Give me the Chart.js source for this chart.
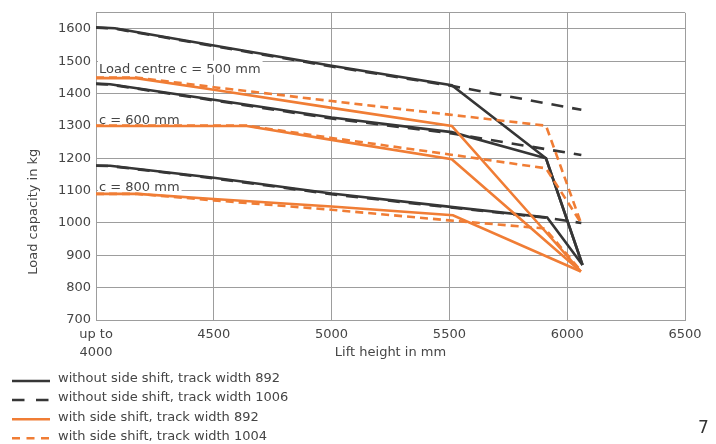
<!DOCTYPE html>
<html>
<head>
<meta charset="utf-8">
<script src="https://cdn.jsdelivr.net/npm/chart.js@4.4.1/dist/chart.umd.min.js"></script>
<style>
  html, body { margin: 0; padding: 0; background: #fff; }
  #wrap { width: 716px; height: 444px; }
</style>
</head>
<body>
<div id="wrap"><canvas id="loadChart" width="716" height="444"></canvas></div>
<script>
// [lift height mm, load capacity kg]
// load centre c = 500 mm
const c500NoShift892 = [[4000,1605],[4080,1602],[4500,1549],[5000,1486],[5510,1426],[5910,1200],[6065,870]];
const c500NoShift1006 = [[4000,1604],[4080,1601],[4500,1547],[5000,1484],[5510,1424],[6060,1350]];
const c500Shift892 = [[4000,1448],[4170,1448],[4500,1412],[5000,1356],[5510,1300],[6058,850]];
const c500Shift1004 = [[4000,1450],[4170,1450],[4500,1420],[5000,1377],[5500,1335],[5910,1301],[6058,1001]];
// c = 600 mm
const c600NoShift892 = [[4000,1431],[4060,1429],[4500,1381],[5000,1326],[5510,1281],[5910,1200],[6065,870]];
const c600NoShift1006 = [[4000,1430],[4060,1428],[4500,1379],[5000,1323],[5510,1277],[6060,1210]];
const c600Shift892 = [[4000,1300],[4640,1300],[5000,1257],[5510,1197],[6058,850]];
const c600Shift1004 = [[4000,1301],[4640,1301],[5000,1263],[5500,1212],[5910,1169],[6058,1001]];
// c = 800 mm
const c800NoShift892 = [[4000,1178],[4060,1177],[4500,1140],[5000,1091],[5515,1049],[5915,1017],[6065,870]];
const c800NoShift1006 = [[4000,1177],[4060,1176],[4500,1138],[5000,1089],[5515,1047],[5915,1016],[6060,1000]];
const c800Shift892 = [[4000,1090],[4175,1090],[4500,1074],[5000,1051],[5515,1024],[6058,850]];
const c800Shift1004 = [[4000,1090],[4175,1090],[4500,1070],[5000,1041],[5500,1008],[5905,983],[6055,855]];

const seriesNames = [
  'without side shift, track width 892',
  'without side shift, track width 1006',
  'with side shift, track width 892',
  'with side shift, track width 1004'
];
const centreLabels = ['Load centre c = 500 mm', 'c = 600 mm', 'c = 800 mm'];
const xTicks = [4000, 4500, 5000, 5500, 6000, 6500];
const xTickLabels = [['up to', '4000'], ['4500'], ['5000'], ['5500'], ['6000'], ['6500']];
const yTicks = [700, 800, 900, 1000, 1100, 1200, 1300, 1400, 1500, 1600, 1650];

const DARK = '#363636';
const ORANGE = '#f07d35';
const GRID = '#9d9d9d';
const TEXT = '#454545';
const FONT = '"DejaVu Sans", sans-serif';

// line styles per legend entry
const styles = [
  { color: DARK, dash: [], legendDash: [] },
  { color: DARK, dash: [12, 9], legendDash: [12.5, 11.5] },
  { color: ORANGE, dash: [], legendDash: [] },
  { color: ORANGE, dash: [8, 5], legendDash: [8, 6.5] }
];

const groups = [
  [c500NoShift892, c500NoShift1006, c500Shift892, c500Shift1004],
  [c600NoShift892, c600NoShift1006, c600Shift892, c600Shift1004],
  [c800NoShift892, c800NoShift1006, c800Shift892, c800Shift1004]
];

// first dataset ends up on top, so orange dashed first, black solid last
const drawOrder = [3, 2, 1, 0];
const datasets = [];
drawOrder.forEach(s => {
  groups.forEach((g, gi) => {
    datasets.push({
      label: seriesNames[s] + ' (' + centreLabels[gi] + ')',
      data: g[s].map(p => ({ x: p[0], y: p[1] })),
      borderColor: styles[s].color,
      borderDash: styles[s].dash,
      borderWidth: 2.6,
      pointRadius: 0,
      fill: false,
      tension: 0
    });
  });
});

// labels for the load centres, sitting on a white patch over the grid
const centreLabelPlugin = {
  id: 'centreLabels',
  beforeDatasetsDraw(chart) {
    const { ctx, scales } = chart;
    const anchors = [1465, 1305, 1100];
    ctx.save();
    ctx.font = '13px ' + FONT;
    ctx.textBaseline = 'alphabetic';
    centreLabels.forEach((t, i) => {
      const x = scales.x.getPixelForValue(4000) + 3;
      const y = scales.y.getPixelForValue(anchors[i]);
      const w = ctx.measureText(t).width;
      ctx.fillStyle = '#fff';
      ctx.fillRect(x - 1, y - 12, w + 3, 14);
      ctx.fillStyle = TEXT;
      ctx.fillText(t, x, y);
    });
    ctx.restore();
  }
};

// x tick labels (first one on two lines, centred on its grid line) and y axis title
const axisTextPlugin = {
  id: 'axisText',
  afterDraw(chart) {
    const { ctx, scales, chartArea } = chart;
    ctx.save();
    ctx.font = '13px ' + FONT;
    ctx.fillStyle = TEXT;
    ctx.textAlign = 'center';
    ctx.textBaseline = 'middle';
    xTicks.forEach((v, i) => {
      const px = scales.x.getPixelForValue(v);
      xTickLabels[i].forEach((line, li) => {
        ctx.fillText(line, px, chartArea.bottom + 15 + li * 18);
      });
    });
    ctx.translate(34, scales.y.getPixelForValue(1035));
    ctx.rotate(-Math.PI / 2);
    ctx.fillText('Load capacity in kg', 0, 0);
    ctx.restore();
  }
};

const legendPlugin = {
  id: 'listLegend',
  afterDraw(chart) {
    const ctx = chart.ctx;
    ctx.save();
    ctx.font = '13px ' + FONT;
    ctx.textBaseline = 'middle';
    styles.forEach((s, i) => {
      const y = 381 + i * 19.1;
      ctx.strokeStyle = s.color;
      ctx.lineWidth = 2.5;
      ctx.setLineDash(s.legendDash);
      ctx.beginPath();
      ctx.moveTo(12, y);
      ctx.lineTo(50, y);
      ctx.stroke();
      ctx.setLineDash([]);
      ctx.fillStyle = TEXT;
      ctx.fillText(seriesNames[i], 58, y - 2);
    });
    ctx.font = '17px ' + FONT;
    ctx.fillStyle = '#333';
    ctx.fillText('7', 698, 429);
    ctx.restore();
  }
};

new Chart(document.getElementById('loadChart'), {
  type: 'line',
  data: { datasets: datasets },
  options: {
    responsive: false,
    animation: false,
    layout: { padding: { left: 0, right: 31, top: 12, bottom: 84 } },
    plugins: { legend: { display: false }, tooltip: { enabled: false } },
    scales: {
      x: {
        type: 'linear',
        min: 4000,
        max: 6500,
        afterBuildTicks: scale => { scale.ticks = xTicks.map(v => ({ value: v })); },
        afterFit: scale => { scale.height = 40; },
        grid: { color: GRID, lineWidth: 1, drawTicks: false },
        border: { color: GRID, width: 1 },
        ticks: { display: false },
        title: {
          display: true,
          text: 'Lift height in mm',
          color: TEXT,
          font: { family: FONT, size: 13 },
          padding: { top: 0, bottom: 0 }
        }
      },
      y: {
        type: 'linear',
        min: 700,
        max: 1650,
        afterBuildTicks: scale => { scale.ticks = yTicks.map(v => ({ value: v })); },
        afterFit: scale => { scale.width = 96; },
        grid: { color: GRID, lineWidth: 1, drawTicks: false },
        border: { color: GRID, width: 1 },
        ticks: {
          padding: 5,
          color: TEXT,
          font: { family: FONT, size: 13 },
          callback: v => v === 1650 ? '' : String(v)
        }
      }
    }
  },
  plugins: [centreLabelPlugin, axisTextPlugin, legendPlugin]
});
</script>
</body>
</html>
